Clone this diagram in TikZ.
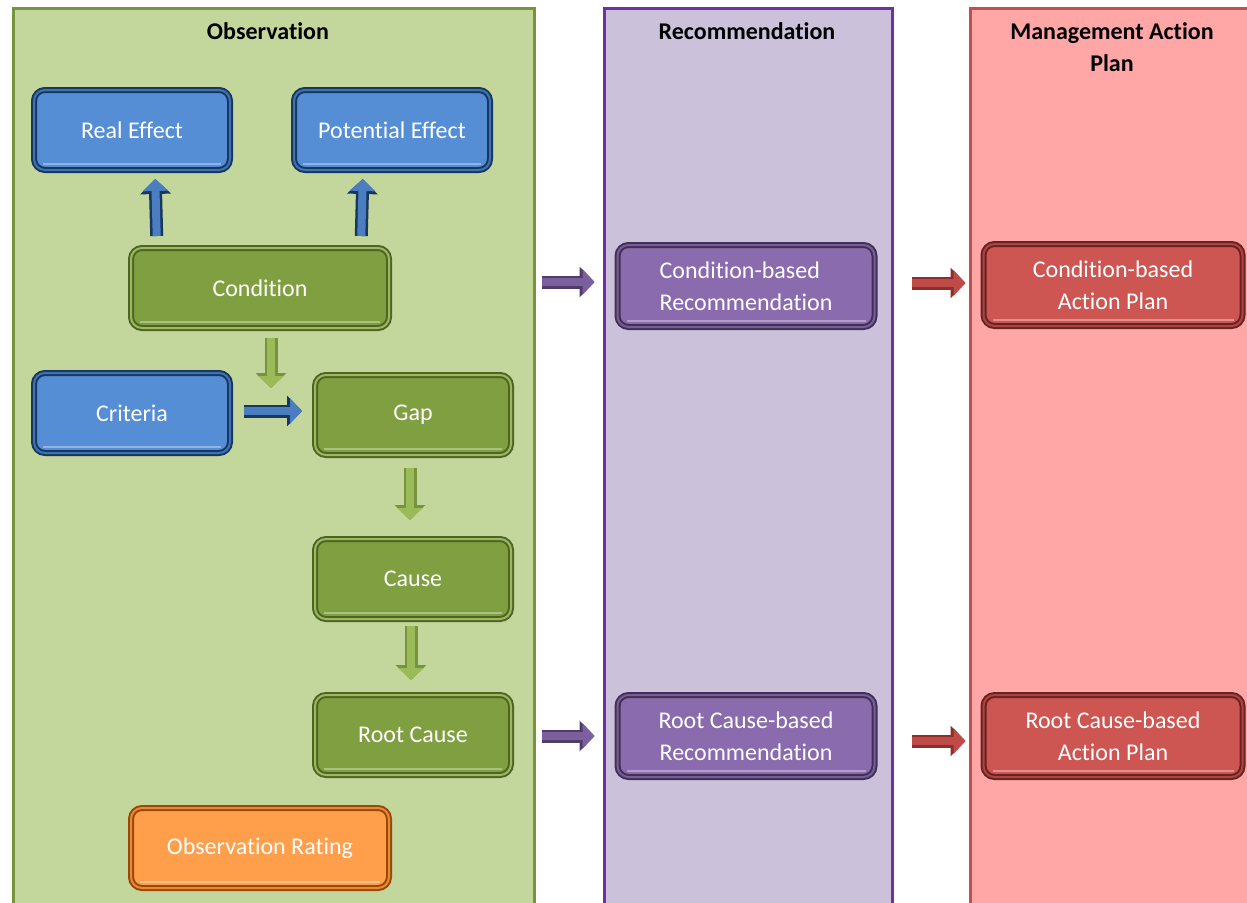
\documentclass[tikz,border=0pt]{standalone}
\usepackage{fontspec}
\setmainfont[Ligatures=NoCommon]{Carlito}
\usetikzlibrary{arrows.meta}

\definecolor{obsfill}{HTML}{C3D69B}
\definecolor{obsline}{HTML}{77933C}
\definecolor{recfill}{HTML}{CCC1DA}
\definecolor{recline}{HTML}{7030A0}
\definecolor{mapfill}{HTML}{FFA6A6}
\definecolor{mapline}{HTML}{C0504D}
\definecolor{bluefill}{HTML}{558ED5}
\definecolor{blueline}{HTML}{17375E}
\definecolor{blueedge}{HTML}{3F72B4}
\definecolor{greenfill}{HTML}{7F9F41}
\definecolor{greenline}{HTML}{4F6228}
\definecolor{greenedge}{HTML}{9BBB59}
\definecolor{orangefill}{HTML}{FF9F4B}
\definecolor{orangeline}{HTML}{984807}
\definecolor{orangeedge}{HTML}{E98A3A}
\definecolor{purplefill}{HTML}{8A6BAD}
\definecolor{purpleline}{HTML}{3F3151}
\definecolor{purpleedge}{HTML}{7A5C9E}
\definecolor{redfill}{HTML}{CD5652}
\definecolor{redline}{HTML}{632523}
\definecolor{rededge}{HTML}{B3423F}
\definecolor{bluearrfill}{HTML}{4A7EC0}
\definecolor{greenarrfill}{HTML}{9BBB59}
\definecolor{purplearrfill}{HTML}{7B5F9E}
\definecolor{purplearrline}{HTML}{4F3C68}
\definecolor{redarrfill}{HTML}{BE4B48}
\definecolor{redarrline}{HTML}{8B2E2C}

\tikzset{
  panel/.style n args={2}{fill=#1, draw=#2, line width=3pt, anchor=north west,
    inner sep=0pt, minimum width=288pt, minimum height=930pt},
  title/.style={font=\fontsize{24}{32}\selectfont\bfseries, align=center},
  box/.style n args={3}{fill=#1, draw=#2, double=#3, line width=2pt,
    double distance=2pt, rounded corners=11pt, text=white, inner sep=0pt,
    font=\fontsize{24}{32}\selectfont, align=center,
    minimum width=196pt, minimum height=80pt,
    path picture={\draw[white, opacity=.35, line width=1.2pt]
      ([xshift=9pt,yshift=6pt]path picture bounding box.south west) --
      ([xshift=-9pt,yshift=6pt]path picture bounding box.south east);}},
  bluebox/.style={box={bluefill}{blueline}{blueedge}},
  greenbox/.style={box={greenfill}{greenline}{greenedge}},
  orangebox/.style={box={orangefill}{orangeline}{orangeedge}},
  purplebox/.style={box={purplefill}{purpleline}{purpleedge}, minimum width=257pt, minimum height=82pt},
  redbox/.style={box={redfill}{redline}{rededge}, minimum width=259pt, minimum height=82pt},
  wide/.style={minimum width=258pt},
  blk/.style 2 args={draw=#1, line width=8pt, -{Triangle[width=25pt,length=12pt]},
    preaction={draw=#2, line width=13pt, -{Triangle[width=30pt,length=15pt]}}},
  bluearr/.style={blk={bluearrfill}{blueline}},
  greenarr/.style={blk={greenarrfill}{obsline}},
  purplearr/.style={blk={purplearrfill}{purplearrline}},
  redarr/.style={blk={redarrfill}{redarrline}}
}

\begin{document}
\begin{tikzpicture}[x=1pt,y=-1pt]
  \useasboundingbox (0,0) rectangle (1247,902);
  %% Panels
  \node[panel={obsfill}{obsline}, minimum width=521pt] (obs) at (12,7) {};
  \node[panel={recfill}{recline}] (rec) at (603,7) {};
  \node[panel={mapfill}{mapline}] (map) at (969,7) {};
  \node[title] (obstitle) at (268,31) {Observation};
  \node[title] (rectitle) at (747,31) {Recommendation};
  \node[title] (maptitle) at (1112,47) {Management Action\\Plan};

  %% Observation
  \node[bluebox] (real) at (132,130) {Real Effect};
  \node[bluebox] (pot) at (392,130) {Potential Effect};
  \node[greenbox, wide] (cond) at (260,288) {Condition};
  \node[bluebox] (crit) at (132,413) {Criteria};
  \node[greenbox] (gap) at (413,415) {Gap};
  \node[greenbox] (cause) at (413,579) {Cause};
  \node[greenbox] (root) at (413,735) {Root Cause};
  \node[orangebox, wide] (rate) at (260,848) {Observation Rating};

  %% Recommendation
  \node[purplebox, align=left] (crec) at (746,286) {Condition-based\\Recommendation};
  \node[purplebox] (rrec) at (746,736) {Root Cause-based\\Recommendation};

  %% Management Action Plan
  \node[redbox] (cplan) at (1113,285) {Condition-based\\Action Plan};
  \node[redbox] (rplan) at (1113,736) {Root Cause-based\\Action Plan};

  %% Arrows
  \coordinate (join) at (271,388);
  \draw[bluearr, shorten <=11pt, shorten >=8pt] ([xshift=27pt]cond.north west) -- ([xshift=23pt]real.south);
  \draw[bluearr, shorten <=11pt, shorten >=8pt] ([xshift=-29pt]cond.north east) -- ([xshift=-29pt]pot.south);
  \draw[greenarr, shorten <=9pt] (cond.south -| join) -- (join);
  \draw[bluearr, shorten <=13pt, shorten >=12pt] ([yshift=2pt]crit.east) -- ([yshift=2pt]crit.east -| gap.west);
  \draw[greenarr, shorten <=12pt, shorten >=18pt] ([xshift=-3pt]gap.south) -- ([xshift=-3pt]cause.north);
  \draw[greenarr, shorten <=6pt, shorten >=14pt] ([xshift=-2pt]cause.south) -- ([xshift=-2pt]root.north);
  \draw[purplearr, shorten <=6pt, shorten >=22pt] ([yshift=4pt]obs.east |- crec.west) -- ([yshift=4pt]crec.west);
  \draw[purplearr, shorten <=6pt, shorten >=22pt] (obs.east |- rrec.west) -- (rrec.west);
  \draw[redarr, shorten <=18pt, shorten >=17pt] ([yshift=2pt]rec.east |- cplan.west) -- ([yshift=2pt]cplan.west);
  \draw[redarr, shorten <=18pt, shorten >=17pt] ([yshift=-5pt]rec.east |- rplan.west) -- ([yshift=-5pt]rplan.west);
\end{tikzpicture}
\end{document}
